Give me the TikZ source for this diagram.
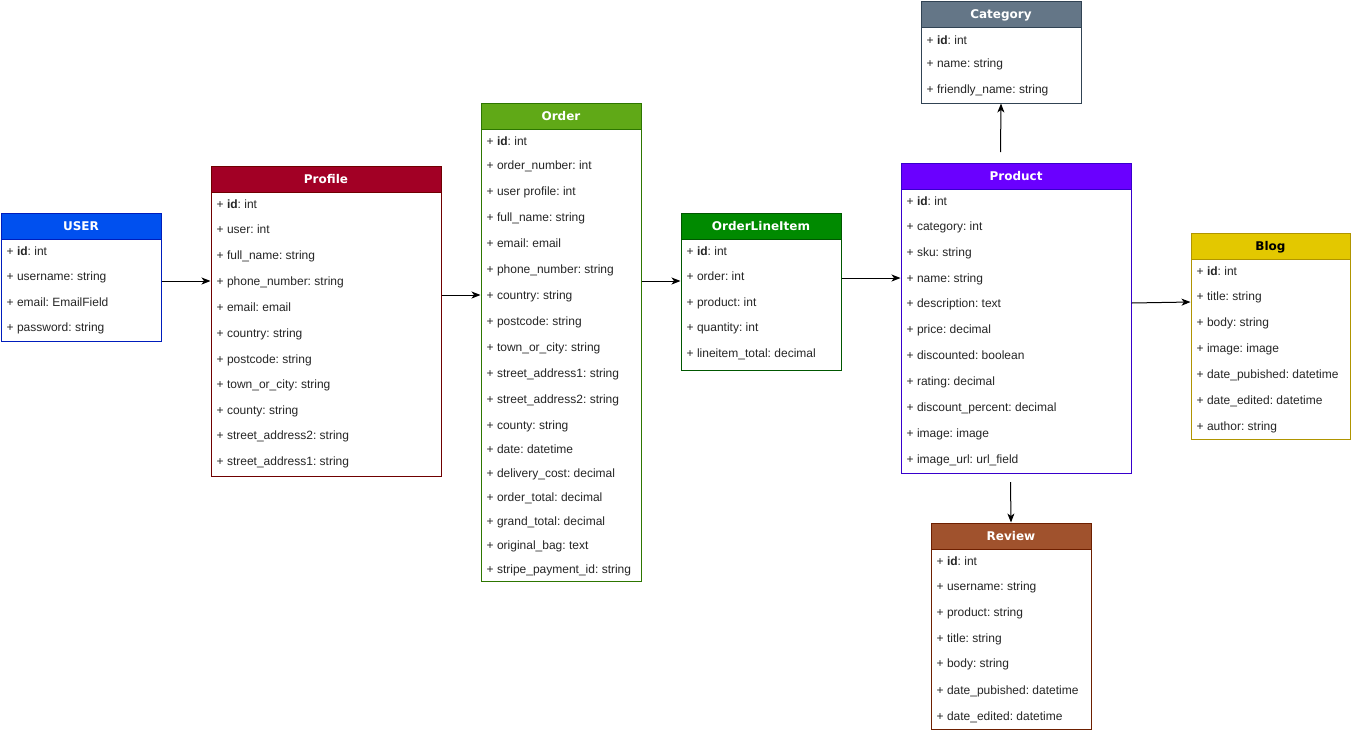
\documentclass[tikz,border=0pt]{standalone}
\usepackage{fontspec}
\setmainfont{Liberation Sans}
\newfontfamily\titlefam{DejaVu Sans}
\usetikzlibrary{arrows.meta}
\frenchspacing
\definecolor{userF}{HTML}{0050EF}\definecolor{userB}{HTML}{001DBC}
\definecolor{profF}{HTML}{A20025}\definecolor{profB}{HTML}{6F0000}
\definecolor{ordF}{HTML}{60A917}\definecolor{ordB}{HTML}{2D7600}
\definecolor{oliF}{HTML}{008A00}\definecolor{oliB}{HTML}{005700}
\definecolor{catF}{HTML}{647687}\definecolor{catB}{HTML}{314354}
\definecolor{prodF}{HTML}{6A00FF}\definecolor{prodB}{HTML}{3700CC}
\definecolor{blogF}{HTML}{E3C800}\definecolor{blogB}{HTML}{B09500}
\definecolor{revF}{HTML}{A0522D}\definecolor{revB}{HTML}{6D1F00}
\tikzset{
  boxst/.style={draw, line width=1pt, fill=white, inner sep=0pt, anchor=north west},
  hdr/.style={draw, line width=1pt, minimum height=26pt, inner sep=0pt, anchor=north west,
    text height=8.7pt, text depth=0pt, text=white, font=\titlefam\bfseries\fontsize{12}{14}\selectfont},
  fld/.style={anchor=west, inner sep=0pt, text height=8.6pt, text depth=0pt,
    font=\frenchspacing\fontsize{12}{14}\selectfont, text=black!85},
  arr/.style={-{Stealth[length=9pt,width=7pt,inset=2.5pt]}, line width=1pt, draw=black}
}
\newcommand\mkbox[8]{%
  \node[boxst, draw=#7, minimum width=#4pt, minimum height=#5pt] (#1) at (#2,#3) {};
  \node[hdr, fill=#6, draw=#7, minimum width=#4pt] (#1H) at (#2,#3) {#8};
}
\begin{document}
\begin{tikzpicture}[x=1pt,y=-1pt]
\useasboundingbox (0,0) rectangle (1351,732);
\fill[white] (0,0) rectangle (1351,732);

% USER
\mkbox{user}{0.5}{212.5}{160}{128}{userF}{userB}{USER}
\foreach \t/\yy [count=\i] in {+ \textbf{id}: int/251, + username: string/276, + email: EmailField/302, + password: string/327}
  {\node[fld] (user\i) at (6.5,\yy) {\t};}

% Profile
\mkbox{prof}{210.5}{165.5}{230}{310}{profF}{profB}{Profile}
\foreach \t/\yy [count=\i] in {+ \textbf{id}: int/204, + user: int/229, + full\_name: string/255,
  + phone\_number: string/281, + email: email/307, + country: string/333, + postcode: string/359,
  + town\_or\_city: string/384, + county: string/410, + street\_address2: string/435,
  + street\_address1: string/461}
  {\node[fld] (prof\i) at (216.5,\yy) {\t};}

% Order
\mkbox{ord}{480.5}{102.5}{160}{478}{ordF}{ordB}{Order}
\foreach \t/\yy [count=\i] in {+ \textbf{id}: int/141, + order\_number: int/165, + user profile: int/191,
  + full\_name: string/217, + email: email/243, + phone\_number: string/269, + country: string/295,
  + postcode: string/321, + town\_or\_city: string/347, + street\_address1: string/373,
  + street\_address2: string/399, + county: string/425, + date: datetime/449,
  + delivery\_cost: decimal/473, + order\_total: decimal/497, + grand\_total: decimal/521,
  + original\_bag: text/545, + stripe\_payment\_id: string/569}
  {\node[fld] (ord\i) at (486.5,\yy) {\t};}

% OrderLineItem
\mkbox{oli}{680.5}{212.5}{160}{157}{oliF}{oliB}{OrderLineItem}
\foreach \t/\yy [count=\i] in {+ \textbf{id}: int/251, + order: int/276, + product: int/302,
  + quantity: int/327, + lineitem\_total: decimal/353}
  {\node[fld] (oli\i) at (686.5,\yy) {\t};}

% Category
\mkbox{cat}{920.5}{0.5}{160}{102}{catF}{catB}{Category}
\foreach \t/\yy [count=\i] in {+ \textbf{id}: int/40, + name: string/63, + friendly\_name: string/89}
  {\node[fld] (cat\i) at (926.5,\yy) {\t};}

% Product
\mkbox{prod}{900.5}{162.5}{230}{310}{prodF}{prodB}{Product}
\foreach \t/\yy [count=\i] in {+ \textbf{id}: int/201, + category: int/226, + sku: string/252,
  + name: string/278, + description: text/303, + price: decimal/329, + discounted: boolean/355,
  + rating: decimal/381, + discount\_percent: decimal/407, + image: image/433,
  + image\_url: url\_field/459}
  {\node[fld] (prod\i) at (906.5,\yy) {\t};}

% Blog
\mkbox{blog}{1190.5}{232.5}{159}{206}{blogF}{blogB}{\color{black}Blog}
\foreach \t/\yy [count=\i] in {+ \textbf{id}: int/271, + title: string/296, + body: string/322,
  + image: image/348, + date\_pubished: datetime/374, + date\_edited: datetime/400,
  + author: string/426}
  {\node[fld] (blog\i) at (1196.5,\yy) {\t};}

% Review
\mkbox{rev}{930.5}{522.5}{160}{206}{revF}{revB}{Review}
\foreach \t/\yy [count=\i] in {+ \textbf{id}: int/561, + username: string/586, + product: string/612,
  + title: string/638, + body: string/663, + date\_pubished: datetime/690,
  + date\_edited: datetime/716}
  {\node[fld] (rev\i) at (936.5,\yy) {\t};}

% connectors
\coordinate (oo) at (0,281);
\coordinate (pb1) at (0,303);
\coordinate (pb2) at (0,302);
\coordinate (pc) at (1000.5,152);
\coordinate (pr) at (1010.5,482);
\draw[arr] (user.east |- prof4) -- (prof.west |- prof4);
\draw[arr] (prof.east |- ord7) -- (ord.west |- ord7);
\draw[arr] (ord.east |- oo) -- (oli.west |- oo);
\draw[arr] (oli.east |- prod4) -- (prod.west |- prod4);
\draw[arr] (prod.east |- pb1) -- (blog.west |- pb2);
\draw[arr] (pc) -- (cat.south);
\draw[arr] (pr) -- (revH.north);
\end{tikzpicture}
\end{document}
